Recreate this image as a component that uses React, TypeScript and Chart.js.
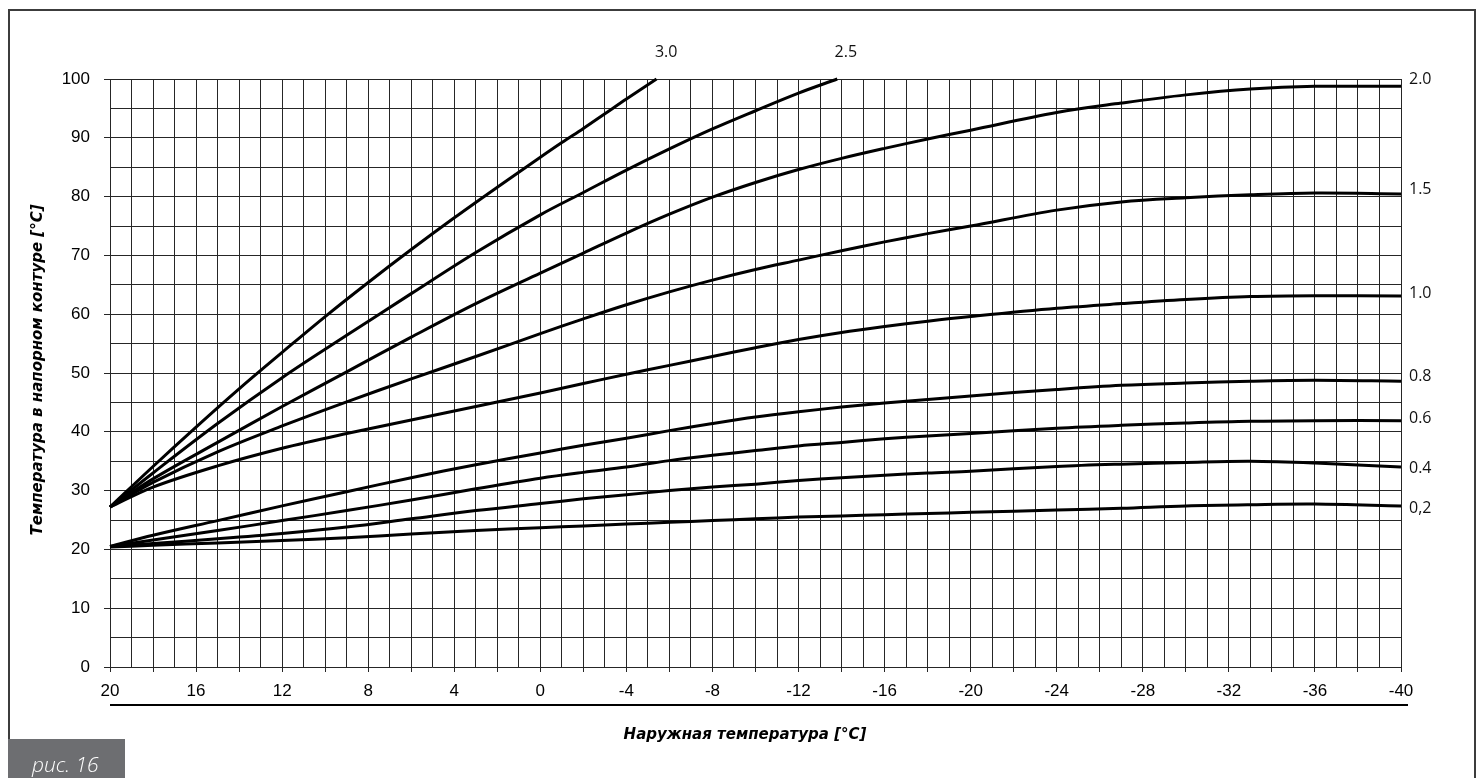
import { useEffect, useRef } from 'react';
import { Chart, registerables } from 'chart.js';

Chart.register(...registerables);

// Outdoor temperature samples (°C) shared by the flatter curves
const outdoorTemps = [20, 18, 15, 12, 9, 6, 3, 0, -2, -4, -6, -8, -10, -12, -14, -16, -18, -20, -24, -27, -30, -33, -36, -40];

// Steep curves that leave the chart at 100 °C
const temps30 = [20, 18, 16, 14, 12, 10, 8, 6, 4, 2, 0, -1, -2, -3, -4, -5.4];
const curve30 = [27.2, 34.1, 40.8, 47.3, 53.5, 59.6, 65.4, 71.0, 76.4, 81.6, 86.7, 89.2, 91.6, 94.1, 96.6, 100];

const temps25 = [20, 18, 15, 12, 9, 6, 3, 0, -2, -4, -6, -8, -10, -12, -13.8];
const curve25 = [27.2, 33.0, 41.4, 49.2, 56.4, 63.5, 70.5, 76.9, 80.7, 84.5, 88.1, 91.5, 94.6, 97.6, 100];

// Curves over outdoorTemps
const curve20 = [27.2, 32.0, 38.2, 44.3, 50.2, 56.1, 61.8, 67.0, 70.4, 73.8, 77.0, 79.9, 82.4, 84.6, 86.5, 88.2, 89.8, 91.3, 94.3, 95.9, 97.3, 98.3, 98.75, 98.75];
const curve15 = [27.2, 31.4, 36.6, 41.0, 45.1, 49.0, 52.8, 56.7, 59.2, 61.6, 63.8, 65.8, 67.6, 69.2, 70.8, 72.3, 73.7, 75.0, 77.7, 79.1, 79.8, 80.3, 80.6, 80.45];
const curve10 = [27.2, 30.6, 34.2, 37.2, 39.7, 42.0, 44.3, 46.6, 48.2, 49.8, 51.3, 52.8, 54.3, 55.7, 56.9, 57.9, 58.8, 59.6, 61.0, 61.8, 62.5, 63.0, 63.15, 63.1];
const curve08 = [20.5, 22.4, 24.9, 27.4, 29.8, 32.2, 34.4, 36.4, 37.7, 38.9, 40.2, 41.4, 42.5, 43.4, 44.2, 44.9, 45.5, 46.1, 47.2, 47.9, 48.3, 48.6, 48.75, 48.6];
const curve06 = [20.5, 21.6, 23.2, 24.9, 26.6, 28.4, 30.3, 32.1, 33.1, 34.0, 35.1, 36.0, 36.8, 37.6, 38.2, 38.8, 39.3, 39.7, 40.6, 41.1, 41.5, 41.8, 41.9, 41.9];
const curve04 = [20.5, 21.0, 21.8, 22.7, 23.8, 25.2, 26.6, 27.8, 28.6, 29.3, 30.0, 30.6, 31.1, 31.7, 32.2, 32.6, 33.0, 33.3, 34.1, 34.5, 34.8, 35.0, 34.7, 34.0];
const curve02 = [20.4, 20.7, 21.1, 21.5, 22.0, 22.6, 23.2, 23.7, 24.0, 24.3, 24.6, 24.9, 25.2, 25.5, 25.7, 25.9, 26.1, 26.3, 26.7, 27.0, 27.4, 27.6, 27.7, 27.4];

// Curve labels
const topLabels = ['3.0', '2.5'];
const topLabelTemps = [-5.85, -14.2];
const rightLabels = ['2.0', '1.5', '1.0', '0.8', '0.6', '0.4', '0,2'];
const rightLabelValues = [100.0, 81.25, 63.5, 49.4, 42.2, 33.85, 26.9];

// Axes
const xMin = -40;
const xMax = 20;
const xLabelStep = 4;
const yMin = 0;
const yMax = 100;
const yLabelStep = 10;
const xTitle = 'Наружная температура [°C]';
const yTitle = 'Температура в напорном контуре [°C]';
const figureLabel = 'рис. 16';

const toPoints = (xs: number[], ys: number[]) => xs.map((x, i) => ({ x, y: ys[i] }));

const decorPlugin = {
  id: 'decor',
  afterDraw(chart: any) {
    const { ctx, scales } = chart;
    const xs = scales.x;
    const ys = scales.y;
    ctx.save();
    // frame
    ctx.strokeStyle = '#3c3c3c';
    ctx.lineWidth = 2;
    ctx.beginPath();
    ctx.moveTo(9, 778);
    ctx.lineTo(9, 10);
    ctx.lineTo(1475, 10);
    ctx.lineTo(1475, 778);
    ctx.stroke();

    // figure label box
    ctx.fillStyle = '#6d6e71';
    ctx.fillRect(8, 739, 117, 39);
    ctx.fillStyle = '#ffffff';
    ctx.font = 'italic 300 21px "Open Sans"';
    ctx.textAlign = 'left';
    ctx.textBaseline = 'alphabetic';
    ctx.fillText(figureLabel, 32, 772);

    // underline below x tick labels
    ctx.fillStyle = '#000';
    ctx.fillRect(xs.getPixelForValue(xMax), 704, xs.getPixelForValue(xMin) + 7 - xs.getPixelForValue(xMax), 2);

    // curve labels
    ctx.fillStyle = '#111';
    ctx.font = '16px "Open Sans"';
    ctx.textBaseline = 'middle';
    ctx.textAlign = 'left';
    const rx = xs.getPixelForValue(xMin) + 8;
    rightLabels.forEach((t, i) => {
      ctx.fillText(t, rx, ys.getPixelForValue(rightLabelValues[i]));
    });
    ctx.textAlign = 'center';
    topLabels.forEach((t, i) => {
      ctx.fillText(t, xs.getPixelForValue(topLabelTemps[i]), ys.getPixelForValue(yMax) - 27);
    });

    // axis titles
    ctx.fillStyle = '#000';
    ctx.font = 'italic bold 15px "DejaVu Sans"';
    ctx.textAlign = 'center';
    ctx.textBaseline = 'middle';
    ctx.fillText(xTitle, 745, 735);
    ctx.translate(38, 370);
    ctx.rotate(-Math.PI / 2);
    ctx.fillText(yTitle, 0, 0);
    ctx.restore();
  },
};

export default function App() {
  const canvasRef = useRef<HTMLCanvasElement | null>(null);

  useEffect(() => {
    if (!canvasRef.current) return;
    const lineStyle = {
      borderColor: '#000',
      borderWidth: 3,
      pointRadius: 0,
      fill: false,
      tension: 0.35,
      clip: false as const,
    };
    const datasets = [
      { label: '3.0', data: toPoints(temps30, curve30), ...lineStyle },
      { label: '2.5', data: toPoints(temps25, curve25), ...lineStyle },
      { label: '2.0', data: toPoints(outdoorTemps, curve20), ...lineStyle },
      { label: '1.5', data: toPoints(outdoorTemps, curve15), ...lineStyle },
      { label: '1.0', data: toPoints(outdoorTemps, curve10), ...lineStyle },
      { label: '0.8', data: toPoints(outdoorTemps, curve08), ...lineStyle },
      { label: '0.6', data: toPoints(outdoorTemps, curve06), ...lineStyle },
      { label: '0.4', data: toPoints(outdoorTemps, curve04), ...lineStyle },
      { label: '0,2', data: toPoints(outdoorTemps, curve02), ...lineStyle },
    ];
    const tickFont = { family: '"Liberation Sans", Arial, sans-serif', size: 17 };
    const gridColor = '#262626';
    const chart = new Chart(canvasRef.current, {
      type: 'line',
      data: { datasets },
      plugins: [decorPlugin],
      options: {
        animation: false,
        responsive: true,
        maintainAspectRatio: false,
        layout: { padding: { left: 0, top: 79, right: 80, bottom: 0 } },
        plugins: { legend: { display: false }, tooltip: { enabled: false } },
        scales: {
          x: {
            type: 'linear',
            min: xMin,
            max: xMax,
            reverse: true,
            afterFit: (s: any) => { s.height = 111; },
            ticks: {
              stepSize: 1,
              autoSkip: false,
              maxRotation: 0,
              padding: 9,
              color: '#000',
              font: tickFont,
              callback: (v: any) => (Number(v) % xLabelStep === 0 ? String(v) : ''),
            },
            grid: {
              color: gridColor,
              lineWidth: 1,
              tickLength: 5,
              tickColor: (c: any) => (c.tick && Number(c.tick.value) % 2 === 0 ? gridColor : 'rgba(0,0,0,0)'),
            },
            border: { display: false },
          },
          y: {
            type: 'linear',
            min: yMin,
            max: yMax,
            afterFit: (s: any) => { s.width = 110; },
            ticks: {
              stepSize: 5,
              autoSkip: false,
              padding: 14,
              color: '#000',
              font: tickFont,
              callback: (v: any) => (Number(v) % yLabelStep === 0 ? String(v) : ''),
            },
            grid: {
              color: gridColor,
              lineWidth: 1,
              tickLength: 6,
              tickColor: (c: any) => (c.tick && Number(c.tick.value) % 10 === 0 ? gridColor : 'rgba(0,0,0,0)'),
            },
            border: { display: false },
          },
        },
      },
    });
    return () => chart.destroy();
  }, []);

  return (
    <div style={{ position: 'fixed', left: 0, top: 0, width: 1481, height: 778, background: '#fff' }}>
      <canvas ref={canvasRef} />
    </div>
  );
}
